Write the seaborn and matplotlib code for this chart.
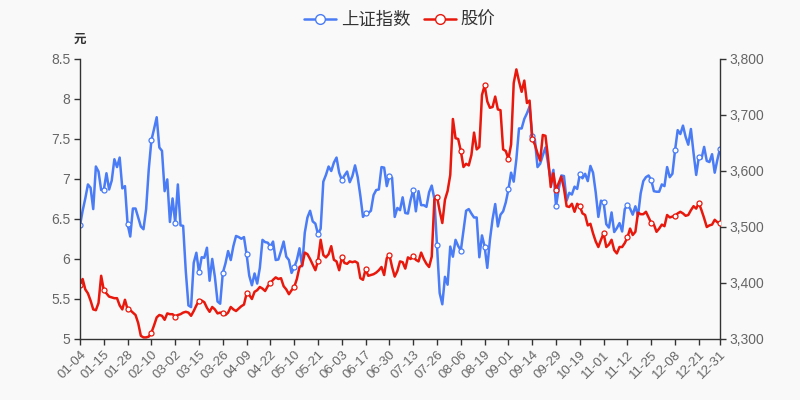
import numpy as np
import pandas as pd
import matplotlib
matplotlib.use("Agg")
import matplotlib.pyplot as plt
import seaborn as sns
from matplotlib.lines import Line2D
from matplotlib.ticker import FuncFormatter

# ---------------- data ----------------
holidays_2021 = ["2021-01-01", "2021-02-11", "2021-02-12", "2021-02-15", "2021-02-16",
                 "2021-02-17", "2021-04-05", "2021-05-03", "2021-05-04", "2021-05-05",
                 "2021-06-14", "2021-09-20", "2021-09-21", "2021-10-01", "2021-10-04",
                 "2021-10-05", "2021-10-06", "2021-10-07"]
trade_dates = pd.bdate_range("2021-01-04", "2021-12-31", freq="C", holidays=holidays_2021)
categories = [d.strftime("%m-%d") for d in trade_dates]

index_values = [
    # Jan
    3503, 3529, 3551, 3576, 3570, 3532, 3608, 3599, 3566, 3566,
    3596, 3567, 3583, 3621, 3607, 3624, 3569, 3573, 3505, 3483,
    # Feb
    3533, 3533, 3517, 3501, 3496, 3532, 3603, 3655, 3675, 3696,
    3642, 3636, 3564, 3585, 3509,
    # Mar
    3551, 3508, 3576, 3503, 3502, 3421, 3360, 3357, 3436, 3454,
    3419, 3446, 3445, 3463, 3404, 3443, 3411, 3367, 3363, 3418,
    3435, 3457, 3441,
    # Apr
    3466, 3484, 3482, 3479, 3482, 3451, 3413, 3396, 3417, 3399,
    3427, 3477, 3473, 3472, 3465, 3474, 3441, 3442, 3457, 3474, 3447,
    # May
    3441, 3418, 3428, 3441, 3462, 3430, 3490, 3517, 3529, 3510,
    3506, 3487, 3497, 3581, 3593, 3608, 3600, 3615,
    # Jun
    3624, 3597, 3584, 3592, 3599, 3580, 3591, 3610, 3589, 3556,
    3518, 3525, 3525, 3529, 3557, 3566, 3567, 3607, 3606, 3573, 3591,
    # Jul
    3588, 3518, 3534, 3530, 3553, 3525, 3524, 3548, 3566, 3528,
    3564, 3539, 3539, 3536, 3562, 3574, 3550, 3467, 3382, 3362,
    3411, 3397,
    # Aug
    3465, 3447, 3477, 3466, 3458, 3494, 3529, 3532, 3524, 3517,
    3517, 3446, 3485, 3465, 3427, 3477, 3514, 3541, 3501, 3522,
    3528, 3544,
    # Sep
    3567, 3597, 3581, 3621, 3676, 3676, 3693, 3703, 3715, 3662,
    3656, 3607, 3613, 3628, 3642, 3613, 3582, 3602, 3537, 3568,
    # Oct
    3592, 3591, 3547, 3561, 3558, 3572, 3568, 3594, 3587, 3595,
    3582, 3609, 3597, 3562, 3518, 3547,
    # Nov
    3544, 3505, 3499, 3526, 3491, 3498, 3507, 3492, 3532, 3539,
    3533, 3522, 3537, 3520, 3560, 3582, 3589, 3592, 3584, 3564,
    3563, 3563,
    # Dec
    3576, 3573, 3607, 3589, 3595, 3637, 3673, 3666, 3681, 3661,
    3647, 3675, 3632, 3593, 3625, 3622, 3643, 3618, 3616, 3630,
    3597, 3620, 3640,
]

price_values = [
    5.68, 5.75, 5.62, 5.57, 5.48, 5.37, 5.36, 5.45, 5.79, 5.61,
    5.57, 5.53, 5.52, 5.51, 5.51, 5.42, 5.37, 5.49, 5.37, 5.36,
    5.33, 5.30, 5.20, 5.04, 5.02, 5.02, 5.03, 5.08, 5.17, 5.27,
    5.30, 5.29, 5.24, 5.32, 5.31, 5.31, 5.28, 5.30, 5.31, 5.33,
    5.34, 5.33, 5.29, 5.35, 5.42, 5.48, 5.48, 5.46, 5.39, 5.34,
    5.40, 5.37, 5.32, 5.33, 5.32, 5.30, 5.33, 5.40, 5.37, 5.35,
    5.38, 5.41, 5.43, 5.57, 5.55, 5.50, 5.59, 5.61, 5.65, 5.63,
    5.60, 5.66, 5.70, 5.74, 5.77, 5.75, 5.76, 5.66, 5.62, 5.56,
    5.61, 5.65, 5.75, 5.90, 5.92, 6.08, 6.06, 6.00, 5.93, 5.86,
    5.98, 6.24, 6.05, 6.02, 6.06, 6.16, 5.99, 5.97, 5.86, 6.02,
    5.95, 5.94, 5.97, 5.96, 5.97, 5.95, 5.76, 5.74, 5.87, 5.79,
    5.80, 5.81, 5.83, 5.86, 5.90, 5.80, 6.01, 6.05, 5.90, 5.78,
    5.85, 5.97, 5.96, 5.88, 6.02, 6.00, 6.04, 5.99, 5.97, 6.08,
    6.00, 5.94, 5.90, 6.03, 6.74, 6.78, 6.60, 6.45, 6.74, 6.85,
    7.05, 7.75, 7.51, 7.50, 7.35, 7.15, 7.19, 7.17, 7.30, 7.58,
    7.37, 7.40, 8.05, 8.17, 7.97, 7.89, 7.90, 8.03, 7.87, 7.86,
    7.37, 7.35, 7.25, 7.43, 8.20, 8.37, 8.22, 8.09, 8.23, 7.95,
    7.98, 7.50, 7.43, 7.32, 7.23, 7.55, 7.54, 7.26, 6.90, 7.07,
    6.86, 6.95, 7.03, 6.88, 6.66, 6.65, 6.69, 6.59, 6.69, 6.66,
    6.57, 6.55, 6.42, 6.44, 6.32, 6.22, 6.15, 6.24, 6.32, 6.15,
    6.18, 6.24, 6.11, 6.07, 6.15, 6.15, 6.20, 6.27, 6.38, 6.30,
    6.34, 6.58, 6.56, 6.56, 6.59, 6.52, 6.45, 6.43, 6.34, 6.38,
    6.43, 6.41, 6.55, 6.52, 6.53, 6.54, 6.57, 6.59, 6.57, 6.54,
    6.55, 6.61, 6.66, 6.63, 6.70, 6.61, 6.51, 6.40, 6.42, 6.43,
    6.49, 6.46, 6.45,
]

series_names = ["上证指数", "股价"]
left_ticks = [5, 5.5, 6, 6.5, 7, 7.5, 8, 8.5]
right_ticks = [3300, 3400, 3500, 3600, 3700, 3800]

# ---------------- style ----------------
BG = "#f9f9f9"
BLUE = "#4a7cf6"
RED = "#e8180c"
TXT = "#666666"
AXC = "#333333"

sns.set_theme(style="white")
plt.rcParams["font.family"] = ["Liberation Sans", "Noto Sans CJK SC", "DejaVu Sans"]

df = pd.DataFrame({"x": np.arange(len(categories)), "date": categories,
                   "index": index_values, "price": price_values})

fig = plt.figure(figsize=(8, 4), dpi=100, facecolor=BG)
ax = fig.add_axes([0.1, 0.1525, 0.8, 0.70])
ax2 = ax.twinx()
# red (price) drawn above blue (index)
ax.set_zorder(2)
ax2.set_zorder(1)
ax.patch.set_visible(False)
ax2.patch.set_facecolor(BG)

n = len(categories)
mark_idx = list(range(0, n, 9))
if mark_idx[-1] != n - 1:
    mark_idx.append(n - 1)

sns.lineplot(data=df, x="x", y="price", ax=ax, color=RED, linewidth=1.8,
             marker="o", markevery=mark_idx, markersize=3.6,
             markerfacecolor="white", markeredgecolor=RED, markeredgewidth=0.9)
sns.lineplot(data=df, x="x", y="index", ax=ax2, color=BLUE, linewidth=1.8,
             marker="o", markevery=mark_idx, markersize=3.6,
             markerfacecolor="white", markeredgecolor=BLUE, markeredgewidth=0.9)

ax.set_xlim(0, n - 1)
ax.set_ylim(5, 8.5)
ax2.set_ylim(3300, 3800)
ax.set_yticks(left_ticks)
ax.set_yticklabels([f"{t:g}" for t in left_ticks])
ax2.set_yticks(right_ticks)
ax2.yaxis.set_major_formatter(FuncFormatter(lambda v, p: f"{int(v):,}"))

ax.set_xticks(mark_idx)
ax.set_xticklabels([categories[i] for i in mark_idx], rotation=45, ha="right",
                   rotation_mode="anchor")

for a in (ax, ax2):
    a.set_xlabel("")
    a.set_ylabel("")
    a.grid(False)
    for s in a.spines.values():
        s.set_visible(False)

ax.spines["left"].set_visible(True)
ax.spines["bottom"].set_visible(True)
ax2.spines["right"].set_visible(True)
for s in (ax.spines["left"], ax.spines["bottom"], ax2.spines["right"]):
    s.set_color(AXC)
    s.set_linewidth(1.0)

ax.tick_params(axis="y", direction="out", length=4, width=1, color=AXC,
               labelcolor=TXT, labelsize=10, pad=3, left=True)
ax.tick_params(axis="x", direction="out", length=4, width=1, color=AXC,
               labelcolor=TXT, labelsize=9.5, pad=3, bottom=True)
ax2.tick_params(axis="y", direction="out", length=4, width=1, color=AXC,
                labelcolor=TXT, labelsize=10, pad=3, right=True)

ax.text(0, 1.07, "元", transform=ax.transAxes, ha="center", va="center",
        fontsize=9, fontweight="bold", color=AXC)

handles = [
    Line2D([0], [0], color=BLUE, linewidth=1.8, marker="o", markersize=7,
           markerfacecolor="white", markeredgecolor=BLUE),
    Line2D([0], [0], color=RED, linewidth=1.8, marker="o", markersize=7,
           markerfacecolor="white", markeredgecolor=RED),
]
leg = fig.legend(handles, series_names, loc="upper center", bbox_to_anchor=(0.5, 1.01),
                 ncol=2, frameon=False, fontsize=12.5, handlelength=1.8,
                 handletextpad=0.3, columnspacing=0.8)
for t in leg.get_texts():
    t.set_color(AXC)

if ax.get_legend():
    ax.get_legend().remove()
if ax2.get_legend():
    ax2.get_legend().remove()

fig.savefig("out.png", dpi=100, facecolor=BG)
